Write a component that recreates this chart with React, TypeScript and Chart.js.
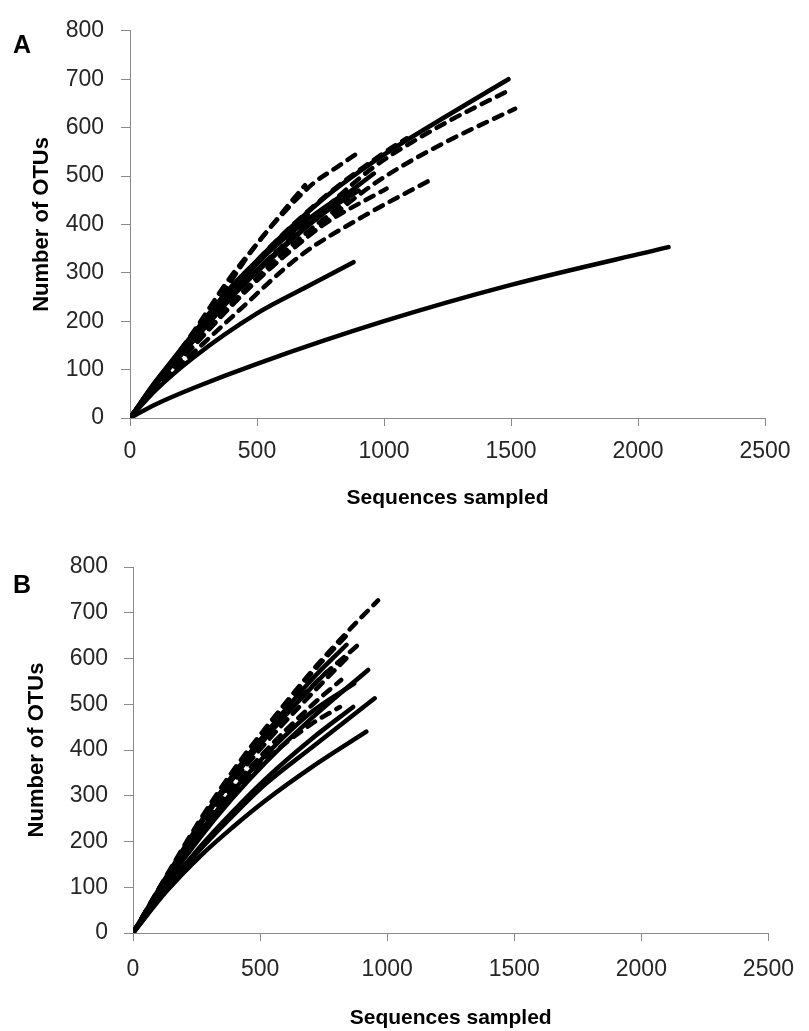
import React, { useEffect, useRef } from "react";
import { Chart, registerables } from "chart.js";

Chart.register(...registerables);

// ---------- Panel A data (x: sequences sampled, y: number of OTUs) ----------
const aSolid2120 = [[0, 0], [100, 28], [250, 62], [500, 112], [1000, 200], [1500, 275], [2120, 353]];
const aSolid880 = [[0, 0], [100, 57], [250, 125], [500, 216], [700, 272], [880, 322]];
const aSolid1490 = [[0, 0], [100, 75], [250, 170], [500, 325], [750, 448], [1000, 544], [1250, 625], [1490, 700]];
const aSolid960 = [[0, 0], [100, 70], [250, 160], [500, 305], [750, 420], [960, 505]];
const aSolid900 = [[0, 0], [100, 68], [250, 160], [400, 250], [500, 302], [750, 418], [900, 470]];
const aSolid820 = [[0, 0], [100, 70], [250, 165], [500, 320], [700, 410], [820, 455]];
const aSolid700 = [[0, 0], [100, 72], [250, 170], [400, 262], [550, 345], [700, 420]];
const aSolid600 = [[0, 0], [100, 74], [250, 175], [400, 272], [600, 375]];
const aDash1496 = [[0, 0], [100, 70], [250, 160], [500, 305], [750, 425], [958, 518], [1076, 559], [1250, 612], [1496, 678]];
const aDash1516 = [[0, 0], [100, 66], [250, 152], [500, 285], [700, 375], [945, 478], [1063, 518], [1250, 572], [1516, 639]];
const aDash1194 = [[0, 0], [100, 60], [250, 135], [400, 208], [670, 335], [920, 417], [1194, 495]];
const aDash689 = [[0, 0], [130, 91], [260, 186], [390, 287], [525, 376], [630, 444], [689, 481]];
const aDash892 = [[0, 0], [100, 70], [250, 168], [500, 360], [630, 438], [722, 485], [814, 518], [892, 546]];
const aDash1090 = [[0, 0], [100, 72], [250, 168], [500, 325], [750, 450], [1000, 548], [1090, 578]];
const aDash1010 = [[0, 0], [100, 64], [250, 148], [400, 232], [500, 284], [750, 395], [1010, 474]];
const aDash860 = [[0, 0], [100, 65], [250, 150], [400, 236], [500, 290], [700, 385], [860, 450]];
const aDash780 = [[0, 0], [100, 68], [250, 158], [400, 250], [500, 305], [650, 378], [780, 430]];

const aSolid = [aSolid2120, aSolid880, aSolid1490, aSolid960, aSolid900, aSolid820, aSolid700, aSolid600];
const aDashed = [aDash1496, aDash1516, aDash1194, aDash689, aDash892, aDash1090, aDash1010, aDash860, aDash780];

// ---------- Panel B data ----------
const bDash964 = [[0, 0], [130, 124], [260, 244], [390, 352], [520, 447], [700, 570], [850, 662], [964, 727]];
const bDash898 = [[0, 0], [130, 120], [260, 234], [390, 337], [520, 427], [700, 537], [898, 636]];
const bDash853 = [[0, 0], [130, 122], [260, 240], [390, 347], [520, 442], [700, 566], [853, 658]];
const bDash846 = [[0, 0], [130, 118], [260, 229], [390, 328], [520, 414], [700, 521], [846, 604]];
const bDash819 = [[0, 0], [130, 115], [260, 221], [390, 315], [520, 397], [700, 496], [819, 553]];
const bDash814 = [[0, 0], [130, 112], [260, 213], [390, 300], [520, 377], [700, 456], [814, 494]];
const bSolid918 = [[0, 0], [130, 90], [259, 165], [390, 230], [520, 289], [702, 362], [918, 440]];
const bSolid951 = [[0, 0], [130, 95], [260, 180], [390, 255], [520, 325], [702, 405], [951, 513]];
const bSolid866 = [[0, 0], [130, 98], [260, 186], [390, 264], [520, 336], [700, 423], [866, 494]];
const bSolid925 = [[0, 0], [130, 108], [260, 206], [390, 294], [520, 372], [700, 468], [925, 575]];
const bSolid840 = [[0, 0], [130, 122], [260, 238], [390, 343], [520, 435], [700, 552], [840, 630]];
const bSolid870 = [[0, 0], [130, 114], [260, 218], [390, 308], [520, 388], [700, 482], [870, 545]];
const bSolid760 = [[0, 0], [130, 120], [260, 233], [390, 335], [520, 425], [640, 500], [760, 570]];

const bSolid = [bSolid918, bSolid951, bSolid866, bSolid925, bSolid840, bSolid870, bSolid760];
const bDashed = [bDash964, bDash898, bDash853, bDash846, bDash819, bDash814];

// ---------- Axes ----------
const xTicks = [0, 500, 1000, 1500, 2000, 2500];
const yTicks = [0, 100, 200, 300, 400, 500, 600, 700, 800];
const xTitle = "Sequences sampled";
const yTitle = "Number of OTUs";

const FONT = "'Liberation Sans', Arial, sans-serif";
const AXIS = "#8a8a8a";

type Geo = {
  height: number;
  top: number;
  right: number;
  yWidth: number;
  xHeight: number;
  xLabelPad: number;
  yLabelPad: number;
  xTitlePad: number;
  yTitlePad: number;
};

function makeDatasets(solid: number[][][], dashed: number[][][]) {
  const ds: any[] = [];
  const add = (curve: number[][], dash: boolean) =>
    ds.push({
      data: curve.map(([x, y]) => ({ x, y })),
      showLine: true,
      borderColor: "#000",
      borderWidth: 4.5,
      borderDash: dash ? [9, 8] : [],
      borderCapStyle: "round",
      pointRadius: 0,
      cubicInterpolationMode: "monotone",
      fill: false,
    });
  solid.forEach((c) => add(c, false));
  dashed.forEach((c) => add(c, true));
  return ds;
}

function Panel({ solid, dashed, geo, top }: { solid: number[][][]; dashed: number[][][]; geo: Geo; top: number }) {
  const ref = useRef<HTMLCanvasElement>(null);
  useEffect(() => {
    if (!ref.current) return;
    const chart = new Chart(ref.current, {
      type: "scatter",
      data: { datasets: makeDatasets(solid, dashed) },
      options: {
        animation: false,
        responsive: false,
        events: [],
        layout: { padding: { top: geo.top, right: geo.right, left: 0, bottom: 0 } },
        plugins: { legend: { display: false }, tooltip: { enabled: false } },
        scales: {
          x: {
            type: "linear",
            min: xTicks[0],
            max: xTicks[xTicks.length - 1],
            afterBuildTicks: (s: any) => {
              s.ticks = xTicks.map((v) => ({ value: v }));
            },
            afterFit: (s: any) => {
              s.height = geo.xHeight;
            },
            ticks: {
              font: { family: FONT, size: 23 },
              color: "#262626",
              padding: geo.xLabelPad,
              maxRotation: 0,
              callback: (v: any) => String(v),
            },
            grid: { drawOnChartArea: false, drawTicks: true, tickLength: 8, color: AXIS },
            border: { display: true, color: AXIS, width: 1 },
            title: {
              display: true,
              text: xTitle,
              font: { family: FONT, size: 21, weight: "bold", lineHeight: 1.2 },
              color: "#000",
              padding: { top: 0, bottom: geo.xTitlePad },
            },
          },
          y: {
            type: "linear",
            min: yTicks[0],
            max: yTicks[yTicks.length - 1],
            afterBuildTicks: (s: any) => {
              s.ticks = yTicks.map((v) => ({ value: v }));
            },
            afterFit: (s: any) => {
              s.width = geo.yWidth;
            },
            ticks: {
              font: { family: FONT, size: 23 },
              color: "#262626",
              padding: geo.yLabelPad,
              callback: (v: any) => String(v),
            },
            grid: { drawOnChartArea: false, drawTicks: true, tickLength: 9, color: AXIS },
            border: { display: true, color: AXIS, width: 1 },
            title: {
              display: true,
              text: yTitle,
              font: { family: FONT, size: 22, weight: "bold", lineHeight: 1.2 },
              color: "#000",
              padding: { top: geo.yTitlePad, bottom: 0 },
            },
          },
        },
      } as any,
    });
    return () => chart.destroy();
  }, []);
  return (
    <canvas
      ref={ref}
      width={809}
      height={geo.height}
      style={{ position: "absolute", left: 0, top, width: 809, height: geo.height }}
    />
  );
}

const geoA: Geo = { height: 520, top: 25, right: 44, yWidth: 130, xHeight: 102, xLabelPad: 12, yLabelPad: 17, xTitlePad: 9, yTitlePad: 29 };
const geoB: Geo = { height: 511, top: 47, right: 36, yWidth: 133, xHeight: 98, xLabelPad: 15, yLabelPad: 16, xTitlePad: 0, yTitlePad: 24 };

const letterStyle: React.CSSProperties = {
  position: "absolute",
  left: 13,
  fontFamily: FONT,
  fontWeight: "bold",
  fontSize: 25,
  lineHeight: "25px",
  color: "#000",
};

export default function App() {
  return (
    <div style={{ position: "absolute", left: 0, top: 0, width: 809, height: 1031, background: "#fff" }}>
      <Panel solid={aSolid} dashed={aDashed} geo={geoA} top={0} />
      <Panel solid={bSolid} dashed={bDashed} geo={geoB} top={520} />
      <div style={{ ...letterStyle, top: 32 }}>A</div>
      <div style={{ ...letterStyle, top: 572 }}>B</div>
    </div>
  );
}
